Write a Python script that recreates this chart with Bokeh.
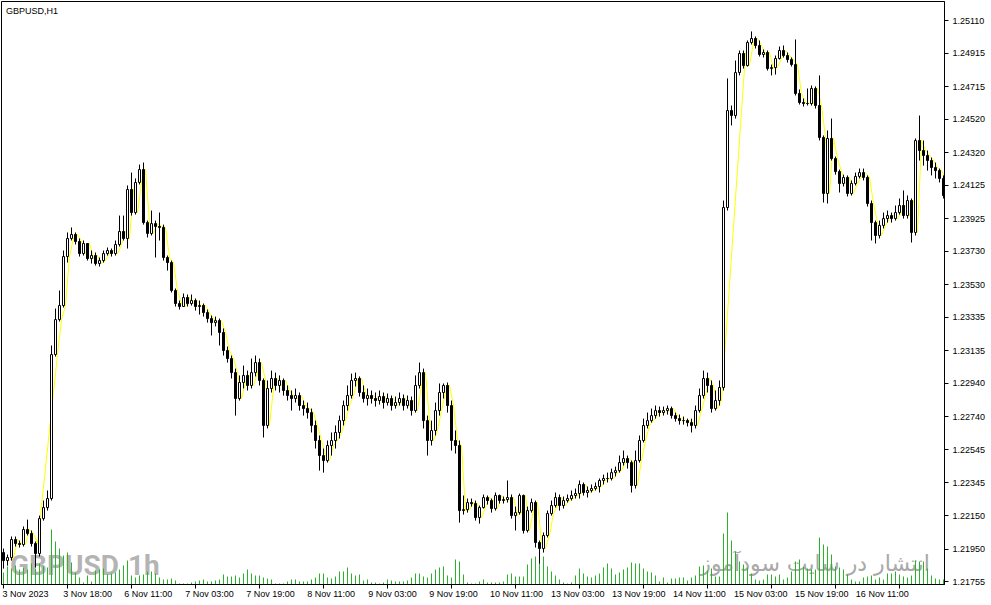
from bokeh.plotting import figure
from bokeh.layouts import column
from bokeh.models import Range1d, FixedTicker, PrintfTickFormatter, ColumnDataSource
from bokeh.embed import file_html
from bokeh.resources import INLINE
from bokeh.core.properties import value

# ---------------- data ----------------
title_text = "GBPUSD,H1"
symbol_mark = "GBPUSD"
period_mark = "1h"
site_mark = "انتشار در سایت سودآموز"

first_open = 1.21929

closes = [
    1.21881, 1.21899, 1.22007, 1.21983, 1.21977, 1.22067, 1.22043, 1.21983, 1.21923, 1.22132,
    1.22198, 1.22252, 1.23113, 1.23322, 1.23406, 1.23699, 1.23807, 1.23831, 1.23789, 1.23717,
    1.23777, 1.23687, 1.23705, 1.23657, 1.23675, 1.23717, 1.23735, 1.23717, 1.23771, 1.23849,
    1.23807, 1.24100, 1.23962, 1.24142, 1.24219, 1.23902, 1.23837, 1.23896, 1.23879, 1.23873,
    1.23693, 1.23663, 1.23496, 1.23418, 1.23400, 1.23454, 1.23418, 1.23436, 1.23400, 1.23406,
    1.23364, 1.23328, 1.23304, 1.23316, 1.23245, 1.23137, 1.23089, 1.23005, 1.22850, 1.22946,
    1.22988, 1.22928, 1.23005, 1.23065, 1.22958, 1.22689, 1.22910, 1.22970, 1.22928, 1.22958,
    1.22898, 1.22868, 1.22850, 1.22868, 1.22808, 1.22790, 1.22766, 1.22689, 1.22599, 1.22509,
    1.22479, 1.22569, 1.22599, 1.22647, 1.22718, 1.22808, 1.22868, 1.22958, 1.22970, 1.22886,
    1.22850, 1.22868, 1.22850, 1.22838, 1.22862, 1.22826, 1.22850, 1.22808, 1.22826, 1.22850,
    1.22808, 1.22838, 1.22778, 1.22928, 1.23005, 1.22718, 1.22599, 1.22659, 1.22778, 1.22886,
    1.22928, 1.22808, 1.22599, 1.22569, 1.22180, 1.22186, 1.22228, 1.22222, 1.22138, 1.22198,
    1.22258, 1.22240, 1.22192, 1.22270, 1.22240, 1.22246, 1.22258, 1.22150, 1.22168, 1.22270,
    1.22061, 1.22180, 1.22228, 1.21989, 1.21953, 1.22031, 1.22162, 1.22210, 1.22258, 1.22210,
    1.22240, 1.22252, 1.22270, 1.22282, 1.22336, 1.22288, 1.22300, 1.22312, 1.22324, 1.22360,
    1.22372, 1.22372, 1.22407, 1.22419, 1.22467, 1.22491, 1.22467, 1.22330, 1.22479, 1.22599,
    1.22689, 1.22718, 1.22748, 1.22778, 1.22766, 1.22778, 1.22790, 1.22748, 1.22730, 1.22718,
    1.22718, 1.22706, 1.22689, 1.22778, 1.22868, 1.22970, 1.22928, 1.22790, 1.22838, 1.22916,
    1.23992, 1.24572, 1.24542, 1.24799, 1.24913, 1.24841, 1.24979, 1.25003, 1.24961, 1.24907,
    1.24919, 1.24823, 1.24829, 1.24883, 1.24931, 1.24901, 1.24877, 1.24847, 1.24674, 1.24620,
    1.24614, 1.24614, 1.24704, 1.24602, 1.24411, 1.24076, 1.24405, 1.24285, 1.24207, 1.24136,
    1.24172, 1.24076, 1.24136, 1.24178, 1.24201, 1.24172, 1.24016, 1.23902, 1.23825, 1.23885,
    1.23926, 1.23944, 1.23926, 1.23962, 1.24004, 1.23944, 1.24034, 1.23843, 1.24393, 1.24333,
    1.24303, 1.24273, 1.24231, 1.24213, 1.24166, 1.24064,
]

highs = [
    1.21953, 1.21917, 1.22025, 1.22025, 1.22001, 1.22085, 1.22126, 1.22061, 1.21995, 1.22150,
    1.22240, 1.22300, 1.23167, 1.23388, 1.23496, 1.23735, 1.23843, 1.23873, 1.23843, 1.23807,
    1.23795, 1.23765, 1.23735, 1.23723, 1.23693, 1.23735, 1.23753, 1.23747, 1.23795, 1.23944,
    1.23944, 1.24124, 1.24201, 1.24166, 1.24249, 1.24261, 1.23914, 1.23974, 1.23914, 1.23962,
    1.23890, 1.23705, 1.23675, 1.23508, 1.23436, 1.23478, 1.23472, 1.23472, 1.23448, 1.23436,
    1.23418, 1.23382, 1.23346, 1.23340, 1.23328, 1.23269, 1.23161, 1.23107, 1.23029, 1.22988,
    1.23047, 1.23017, 1.23089, 1.23107, 1.23089, 1.22970, 1.22958, 1.23017, 1.23005, 1.22988,
    1.22970, 1.22928, 1.22898, 1.22910, 1.22886, 1.22838, 1.22826, 1.22790, 1.22718, 1.22629,
    1.22551, 1.22599, 1.22647, 1.22689, 1.22748, 1.22838, 1.22928, 1.22999, 1.23005, 1.22982,
    1.22928, 1.22910, 1.22898, 1.22886, 1.22898, 1.22886, 1.22880, 1.22868, 1.22862, 1.22886,
    1.22874, 1.22868, 1.22862, 1.22988, 1.23065, 1.23029, 1.22748, 1.22718, 1.22826, 1.22940,
    1.22940, 1.22946, 1.22838, 1.22659, 1.22599, 1.22270, 1.22252, 1.22252, 1.22240, 1.22210,
    1.22276, 1.22270, 1.22252, 1.22288, 1.22276, 1.22264, 1.22360, 1.22276, 1.22204, 1.22282,
    1.22276, 1.22204, 1.22252, 1.22240, 1.22001, 1.22049, 1.22180, 1.22240, 1.22288, 1.22276,
    1.22264, 1.22276, 1.22300, 1.22312, 1.22360, 1.22348, 1.22324, 1.22336, 1.22348, 1.22372,
    1.22395, 1.22407, 1.22431, 1.22443, 1.22509, 1.22539, 1.22509, 1.22479, 1.22539, 1.22629,
    1.22730, 1.22766, 1.22790, 1.22808, 1.22802, 1.22802, 1.22808, 1.22802, 1.22766, 1.22754,
    1.22742, 1.22730, 1.22730, 1.22808, 1.22910, 1.23017, 1.23005, 1.22958, 1.22898, 1.22958,
    1.24034, 1.24764, 1.24602, 1.24871, 1.24931, 1.24931, 1.24991, 1.25045, 1.25015, 1.24991,
    1.24937, 1.24931, 1.24847, 1.24901, 1.24955, 1.24961, 1.24919, 1.24889, 1.24997, 1.24698,
    1.24644, 1.24704, 1.24722, 1.24716, 1.24782, 1.24423, 1.24453, 1.24524, 1.24297, 1.24219,
    1.24189, 1.24184, 1.24154, 1.24201, 1.24225, 1.24225, 1.24184, 1.24034, 1.23914, 1.23914,
    1.23962, 1.23974, 1.23962, 1.24004, 1.24046, 1.24094, 1.24064, 1.24046, 1.24405, 1.24542,
    1.24393, 1.24333, 1.24291, 1.24261, 1.24225, 1.24184,
]

lows = [
    1.21833, 1.21851, 1.21881, 1.21965, 1.21959, 1.21965, 1.22031, 1.21965, 1.21839, 1.21905,
    1.22120, 1.22180, 1.22240, 1.23101, 1.23310, 1.23394, 1.23663, 1.23795, 1.23771, 1.23699,
    1.23705, 1.23675, 1.23657, 1.23645, 1.23639, 1.23663, 1.23705, 1.23699, 1.23705, 1.23759,
    1.23795, 1.23747, 1.23944, 1.23950, 1.24130, 1.23890, 1.23813, 1.23825, 1.23693, 1.23795,
    1.23675, 1.23615, 1.23484, 1.23400, 1.23382, 1.23406, 1.23400, 1.23406, 1.23376, 1.23352,
    1.23340, 1.23304, 1.23227, 1.23281, 1.23167, 1.23107, 1.23065, 1.22970, 1.22748, 1.22838,
    1.22910, 1.22898, 1.22910, 1.22982, 1.22928, 1.22617, 1.22671, 1.22886, 1.22898, 1.22886,
    1.22868, 1.22838, 1.22778, 1.22826, 1.22778, 1.22748, 1.22730, 1.22647, 1.22551, 1.22419,
    1.22407, 1.22467, 1.22509, 1.22551, 1.22611, 1.22689, 1.22778, 1.22850, 1.22922, 1.22862,
    1.22826, 1.22808, 1.22820, 1.22802, 1.22814, 1.22790, 1.22808, 1.22778, 1.22790, 1.22808,
    1.22778, 1.22790, 1.22748, 1.22766, 1.22910, 1.22671, 1.22509, 1.22569, 1.22629, 1.22748,
    1.22850, 1.22766, 1.22539, 1.22521, 1.22108, 1.22156, 1.22168, 1.22204, 1.22120, 1.22102,
    1.22192, 1.22216, 1.22168, 1.22180, 1.22222, 1.22222, 1.22228, 1.22132, 1.22061, 1.22156,
    1.22043, 1.22049, 1.22168, 1.21959, 1.21863, 1.21929, 1.22019, 1.22150, 1.22198, 1.22180,
    1.22192, 1.22228, 1.22240, 1.22252, 1.22252, 1.22270, 1.22258, 1.22288, 1.22300, 1.22288,
    1.22336, 1.22348, 1.22360, 1.22384, 1.22407, 1.22449, 1.22431, 1.22288, 1.22312, 1.22467,
    1.22587, 1.22671, 1.22706, 1.22730, 1.22742, 1.22748, 1.22754, 1.22730, 1.22712, 1.22694,
    1.22694, 1.22683, 1.22647, 1.22671, 1.22766, 1.22850, 1.22886, 1.22766, 1.22778, 1.22808,
    1.22898, 1.23974, 1.24483, 1.24524, 1.24782, 1.24823, 1.24835, 1.24967, 1.24943, 1.24895,
    1.24889, 1.24811, 1.24782, 1.24787, 1.24877, 1.24889, 1.24859, 1.24835, 1.24662, 1.24608,
    1.24596, 1.24602, 1.24602, 1.24584, 1.24393, 1.24022, 1.24016, 1.24273, 1.24189, 1.24082,
    1.24118, 1.24058, 1.24064, 1.24124, 1.24166, 1.24154, 1.23998, 1.23795, 1.23777, 1.23807,
    1.23867, 1.23902, 1.23902, 1.23914, 1.23950, 1.23926, 1.23926, 1.23783, 1.23825, 1.24273,
    1.24243, 1.24213, 1.24184, 1.24166, 1.24142, 1.24046,
]

# tick volume, in hundreds of ticks
volumes = [
    12, 18, 16, 19, 15, 17, 15, 21, 16, 21, 18, 17, 55, 43, 36, 29, 32, 22, 12, 7,
    2, 9, 3, 14, 15, 16, 10, 11, 12, 15, 19, 24, 9, 7, 9, 10, 13, 13, 11, 7,
    5, 5, 6, 4, 1, 1, 1, 2, 3, 4, 5, 3, 3, 4, 5, 10, 8, 8, 9, 7,
    11, 15, 11, 9, 9, 7, 6, 5, 1, 1, 1, 3, 5, 5, 3, 3, 3, 5, 7, 11,
    11, 7, 6, 8, 13, 13, 17, 11, 9, 10, 4, 5, 2, 2, 1, 2, 5, 4, 3, 3,
    3, 4, 7, 11, 11, 8, 7, 11, 15, 17, 18, 9, 7, 25, 23, 10, 2, 1, 1, 3,
    5, 2, 2, 2, 2, 3, 10, 11, 8, 8, 8, 20, 26, 28, 22, 28, 18, 13, 9, 5,
    2, 1, 2, 9, 16, 11, 8, 7, 9, 11, 17, 21, 16, 10, 12, 15, 17, 22, 21, 21,
    16, 13, 12, 9, 3, 7, 2, 6, 6, 7, 7, 4, 7, 9, 18, 19, 14, 16, 8, 8,
    51, 72, 44, 33, 23, 20, 17, 11, 5, 4, 5, 10, 10, 8, 10, 5, 7, 13, 23, 25,
    18, 16, 15, 15, 47, 40, 38, 30, 18, 17, 15, 10, 5, 3, 3, 7, 8, 9, 5, 7,
    5, 11, 11, 13, 10, 8, 7, 9, 24, 23, 23, 16, 9, 6, 5, 5,
]

# bars for which the yellow overlay line has no point (it bridges them straight)
line_missing_bars = [8, 9, 10, 11, 179, 180, 181, 182, 183]

x_tick_bars = [0, 16, 32, 48, 64, 80, 96, 112, 128, 144, 160, 176, 192, 208, 224]
x_tick_labels = ["3 Nov 2023", "3 Nov 18:00", "6 Nov 11:00", "7 Nov 03:00", "7 Nov 19:00",
                 "8 Nov 11:00", "9 Nov 03:00", "9 Nov 19:00", "10 Nov 11:00", "13 Nov 03:00",
                 "13 Nov 19:00", "14 Nov 11:00", "15 Nov 03:00", "15 Nov 19:00", "16 Nov 11:00"]

y_tick_values = [1.21755, 1.21950, 1.22150, 1.22345, 1.22545, 1.22740, 1.22940, 1.23135, 1.23335,
                 1.23530, 1.23730, 1.23925, 1.24125, 1.24320, 1.24520, 1.24715, 1.24915, 1.25110]

# ---------------- derived ----------------
n = len(closes)
idx = list(range(n))
opens = [first_open] + closes[:-1]
is_bull = [c >= o for o, c in zip(opens, closes)]

src = ColumnDataSource(dict(
    x=idx, o=opens, c=closes, h=highs, l=lows, v=volumes,
    top=[max(o, c) for o, c in zip(opens, closes)],
    bot=[min(o, c) for o, c in zip(opens, closes)],
    fill=["white" if b else "black" for b in is_bull],
))

# yellow overlay line: closes drawn with a lag of 1.5 bars
LAG = 1.5
line_x = [i + LAG for i in idx if i not in line_missing_bars]
line_y = [closes[i] for i in idx if i not in line_missing_bars]

# ---------------- layout constants ----------------
FONT = "Liberation Sans"
W = 991
MAIN_H = 589
LAB_H = 16
BORDER_L = 1
BORDER_R = 47
PX_PER_BAR = 4.0
X0 = -0.5
X1 = X0 + (W - BORDER_L - BORDER_R) / PX_PER_BAR

# ---------------- main figure ----------------
p = figure(width=W, height=MAIN_H, output_backend="svg", toolbar_location=None,
           x_range=Range1d(X0, X1), y_range=Range1d(1.21738, 1.25224),
           y_axis_location="right",
           min_border_left=BORDER_L, min_border_top=1, min_border_right=BORDER_R,
           min_border_bottom=5,
           background_fill_color="white", border_fill_color="white")
p.outline_line_color = "black"
p.outline_line_width = 1
p.grid.visible = False
p.extra_y_ranges = {"vol": Range1d(0, 583)}

# watermarks (behind everything)
p.text(x=[1.625], y=[1.21851], text=[symbol_mark], text_font=value("Roboto"),
       text_font_style="bold", text_font_size="28px", text_color="#b4b4b4",
       text_align="left", text_baseline="middle")
p.text(x=[31.125], y=[1.21851], text=[period_mark], text_font=value("Roboto"),
       text_font_style="bold", text_font_size="28px", text_color="#b4b4b4",
       text_align="left", text_baseline="middle")
p.text(x=[231.6], y=[1.21863], text=[site_mark], text_font=value("DejaVu Sans"),
       text_font_size="22px", text_color="#a9a9a9",
       text_align="right", text_baseline="middle")

# volumes
p.segment(x0="x", y0=0, x1="x", y1="v", source=src, y_range_name="vol",
          line_color="#28b428", line_width=1)

# yellow line
p.line(line_x, line_y, line_color="#ffff00", line_width=1)

# candles
p.segment(x0="x", y0="l", x1="x", y1="h", source=src, line_color="black", line_width=1)
p.vbar(x="x", width=0.5, top="top", bottom="bot", source=src,
       fill_color="fill", line_color="black", line_width=1)

# title inside chart
p.text(x=[0.625], y=[1.25170], text=[title_text], text_font=value(FONT),
       text_font_size="9px", text_color="black", text_align="left", text_baseline="middle")

# axes
xa = p.xaxis[0]
xa.ticker = FixedTicker(ticks=x_tick_bars)
xa.major_label_overrides = {b: "" for b in x_tick_bars}
xa.major_label_text_font_size = "1px"
xa.major_label_standoff = 0
ya = p.yaxis[0]
ya.ticker = FixedTicker(ticks=y_tick_values)
ya.formatter = PrintfTickFormatter(format="%.5f")
ya.major_label_text_font = FONT
ya.major_label_text_font_size = "9px"
ya.major_label_text_color = "black"
ya.major_label_standoff = 4
for ax in (xa, ya):
    ax.axis_line_color = "black"
    ax.major_tick_line_color = "black"
    ax.major_tick_in = 0
    ax.major_tick_out = 4
    ax.minor_tick_line_color = None

# ---------------- time-label strip (left-aligned labels at each tick) ----------------
q = figure(width=W, height=LAB_H, output_backend="svg", toolbar_location=None,
           x_range=Range1d(X0, X0 + (W - BORDER_L) / PX_PER_BAR), y_range=Range1d(0, 1),
           x_axis_type=None, y_axis_type=None,
           min_border_left=BORDER_L, min_border_right=0, min_border_top=0, min_border_bottom=0,
           background_fill_color="white", border_fill_color="white")
q.outline_line_color = None
q.grid.visible = False
q.text(x=x_tick_bars, y=[0.70] * len(x_tick_bars), text=x_tick_labels,
       text_font=value(FONT), text_font_size="9px", text_color="black",
       text_align="left", text_baseline="middle", x_offset=-1)

layout = column(p, q, spacing=0)
open("out.html", "w").write(file_html(layout, INLINE))
